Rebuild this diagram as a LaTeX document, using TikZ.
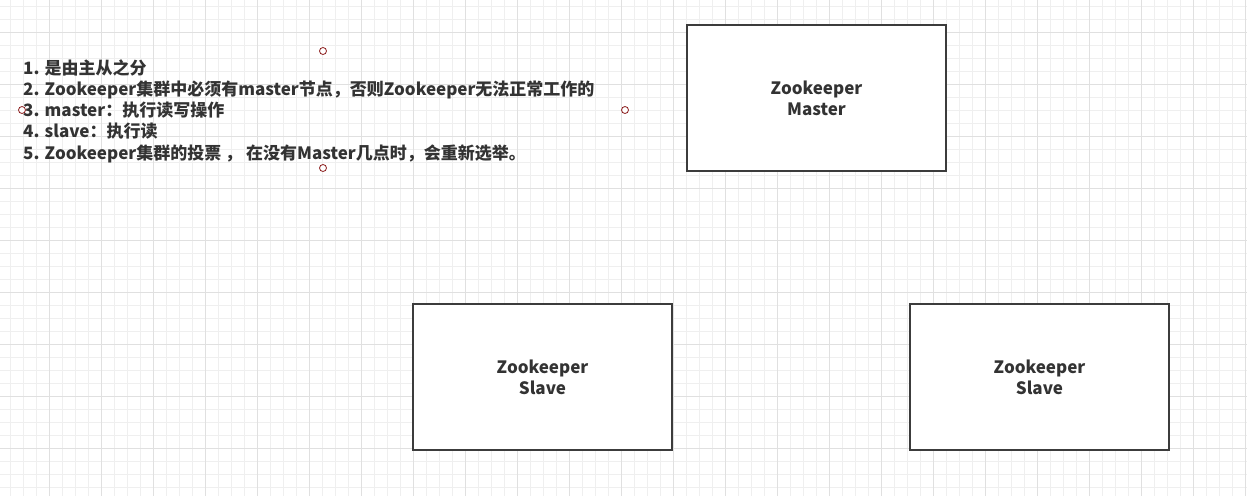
\documentclass[tikz,border=0pt]{standalone}
\usepackage{fontspec}
\setmainfont{Noto Sans CJK SC}
\usepackage{xcolor}
\definecolor{gridminor}{HTML}{EFEFEF}
\definecolor{gridmajor}{HTML}{E0E0E0}
\definecolor{boxline}{HTML}{3C3C3C}
\definecolor{textcol}{HTML}{333333}
\definecolor{handlered}{HTML}{8B1C1C}

\begin{document}
\begin{tikzpicture}[x=1pt,y=-1pt,
    zkbox/.style={draw=boxline,line width=1.5pt,fill=white,minimum width=259pt,minimum height=146pt,inner sep=0pt,align=center,text=textcol,font=\bfseries\fontsize{17}{21}\selectfont},
    handle/.style={circle,draw=handlered,fill=white,line width=0.8pt,minimum size=7pt,inner sep=0pt}]
        \fill[white] (0,0) rectangle (1247,496);
        \useasboundingbox (0,0) rectangle (1247,496);
        % grid
        \foreach \x in {-2.7,10.3,...,1247} \draw[gridminor] (\x,0) -- (\x,496);
        \foreach \y in {6,19,...,496} \draw[gridminor] (0,\y) -- (1247,\y);
        \foreach \x in {49.3,101.3,...,1247} \draw[gridmajor] (\x,0) -- (\x,496);
        \foreach \y in {32,84,...,496} \draw[gridmajor] (0,\y) -- (1247,\y);
        % notes
        \node[anchor=west,inner sep=0pt,align=left,text=textcol,font=\bfseries\fontsize{17}{21.25}\selectfont] (notes) at (23,111)
            {1. 是由主从之分\\
             2. Zookeeper集群中必须有master节点，否则Zookeeper无法正常工作的\\
             3. master：执行读写操作\\
             4. slave：执行读\\
             5. Zookeeper集群的投票 ， 在没有Master几点时，会重新选举。};
        \node[handle] (hN) at (323,51) {};
        \node[handle] (hW) at (22,110) {};
        \node[handle] (hE) at (625,110) {};
        \node[handle] (hS) at (323,168) {};
        % servers
        \node[zkbox] (master) at (816.5,98) {Zookeeper\\Master};
        \node[zkbox] (slaveA) at (542.5,377) {Zookeeper\\Slave};
        \node[zkbox] (slaveB) at (1039.5,377) {Zookeeper\\Slave};
    \end{tikzpicture}
\end{document}
